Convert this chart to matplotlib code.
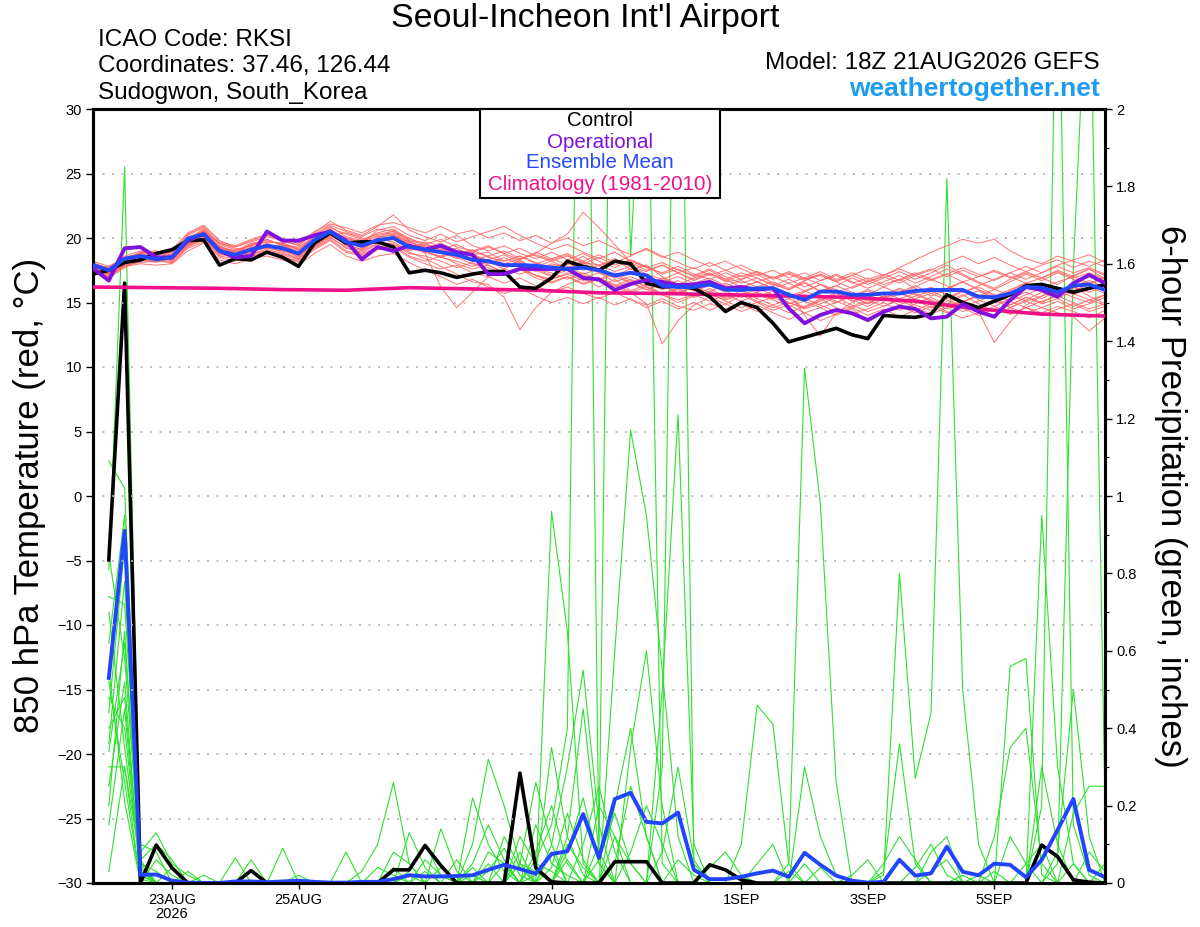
import numpy as np
import matplotlib
matplotlib.use("Agg")
import matplotlib.pyplot as plt
from matplotlib.patches import Rectangle
from matplotlib.ticker import MultipleLocator

plt.rcParams['font.family'] = ['Liberation Sans', 'DejaVu Sans']

# ---------------- data ----------------
# 6-hourly steps from 18Z 21AUG2026 (step 0) to step 64 (384 h)
tick_hours = [30, 78, 126, 174, 246, 294, 342]
tick_labels = ["23AUG\n2026", "25AUG", "27AUG", "29AUG", "1SEP", "3SEP", "5SEP"]

temp_control = [17.2, 17.5, 18.1, 18.3, 18.8, 19.1, 19.8, 19.85, 17.9, 18.4,
                18.3, 18.9, 18.5, 17.8, 19.6, 20.4, 19.6, 19.7, 19.7, 19.3,
                17.3, 17.5, 17.3, 16.95, 17.2, 17.4, 17.4, 16.2, 16.1, 16.9,
                18.2, 17.8, 17.5, 18.2, 18.0, 16.5, 16.2, 16.3, 16.1, 15.45,
                14.3, 15.0, 14.6, 13.4, 11.95, 12.3, 12.65, 13.0, 12.5, 12.2,
                14.0, 13.9, 13.85, 14.1, 15.6, 15.0, 14.6, 15.1, 15.6, 16.3,
                16.4, 16.1, 15.8, 16.1, 16.4]
temp_oper = [17.65, 16.7, 19.2, 19.3, 18.5, 18.5, 19.8, 20.3, 19.0, 18.5,
             18.6, 20.5, 19.8, 19.8, 20.2, 20.5, 19.8, 18.35, 19.3, 19.0,
             19.4, 19.1, 19.4, 18.9, 18.7, 17.2, 17.2, 17.6, 17.6, 17.6,
             17.6, 16.9, 16.8, 15.97, 16.43, 16.74, 16.6, 16.35, 16.4, 16.6,
             16.1, 16.2, 16.0, 16.1, 14.55, 13.39, 14.03, 14.42, 14.16, 13.64,
             14.29, 14.68, 14.5, 13.77, 13.9, 14.88, 14.29, 13.9, 15.19, 16.2,
             15.97, 15.45, 16.49, 17.13, 16.5]
temp_mean = [17.9, 17.5, 18.4, 18.6, 18.35, 18.5, 19.95, 20.3, 19.0, 18.7,
             19.1, 19.4, 19.2, 18.8, 19.84, 20.5, 19.7, 19.4, 19.84, 20.0,
             19.3, 19.1, 18.9, 18.7, 18.3, 18.2, 17.9, 17.9, 17.85, 17.7,
             17.6, 17.7, 17.5, 17.1, 17.3, 17.1, 16.3, 16.2, 16.2, 16.4,
             16.0, 15.97, 16.1, 16.1, 15.6, 15.2, 15.85, 15.85, 15.6, 15.6,
             15.7, 15.7, 15.9, 15.97, 15.97, 15.97, 15.45, 15.4, 15.7, 16.2,
             16.15, 15.8, 16.3, 16.4, 15.97]
# climatology, one value per day (steps 0,4,...,64)
clim_days = [16.2, 16.15, 16.1, 16.0, 15.95, 16.15, 16.05, 15.95, 15.75,
             15.7, 15.6, 15.5, 15.4, 15.1, 14.5, 14.1, 13.95]

t_m01 = [17.6, 17.2, 18.0, 18.8, 18.9, 18.4, 19.6, 20.6, 19.3, 18.9,
         19.5, 19.9, 19.4, 19.0, 20.2, 20.9, 20.1, 19.8, 20.4, 20.7,
         19.8, 19.2, 19.6, 19.0, 18.7, 18.9, 18.2, 18.6, 18.0, 18.4,
         17.9, 18.6, 17.8, 18.3, 17.6, 17.9, 17.0, 16.4, 16.9, 17.3,
         16.6, 16.8, 17.2, 16.5, 16.0, 16.6, 15.8, 16.3, 16.9, 16.4,
         16.9, 17.4, 16.8, 17.3, 17.9, 17.2, 16.6, 16.1, 16.8, 17.3,
         16.9, 16.4, 17.1, 17.6, 16.8]
t_m02 = [17.9, 17.4, 18.2, 18.3, 18.1, 18.6, 19.3, 19.9, 18.6, 18.4,
         18.8, 19.0, 18.7, 18.3, 19.4, 20.1, 19.2, 18.9, 19.5, 19.6,
         18.9, 18.4, 17.8, 17.2, 16.6, 16.4, 15.4, 12.9, 14.6, 15.8,
         16.4, 16.9, 16.2, 16.8, 15.9, 16.4, 15.6, 15.0, 15.5, 16.1,
         15.4, 15.9, 15.3, 14.8, 15.3, 14.6, 15.1, 15.7, 15.2, 14.7,
         15.3, 15.8, 15.2, 14.6, 15.1, 15.6, 14.9, 14.3, 14.8, 15.4,
         15.0, 15.6, 16.2, 15.5, 14.9]
t_m03 = [17.3, 17.0, 17.9, 18.5, 18.6, 18.2, 19.8, 20.2, 19.0, 18.3,
         19.0, 19.6, 19.1, 18.5, 19.9, 20.6, 19.5, 19.1, 20.0, 20.3,
         19.6, 18.8, 16.2, 14.6, 15.8, 17.0, 17.6, 18.3, 17.5, 17.0,
         17.8, 17.2, 17.6, 17.0, 16.5, 17.1, 16.3, 15.7, 16.2, 15.8,
         16.5, 16.0, 15.4, 15.9, 15.3, 15.8, 16.4, 15.7, 15.1, 15.6,
         16.2, 16.8, 16.1, 15.5, 16.0, 16.6, 16.0, 15.3, 15.9, 16.5,
         16.0, 15.4, 16.1, 16.7, 16.2]
t_m04 = [18.1, 17.6, 18.5, 18.7, 18.3, 18.8, 20.1, 20.4, 19.2, 18.8,
         19.3, 19.2, 19.0, 18.9, 19.7, 20.3, 19.8, 19.2, 19.7, 20.1,
         19.4, 19.3, 18.8, 18.5, 18.0, 17.7, 17.2, 17.6, 17.1, 16.8,
         17.3, 17.0, 16.6, 16.1, 15.8, 14.9, 11.8, 13.6, 14.8, 15.4,
         14.9, 15.5, 16.1, 15.6, 15.0, 14.6, 15.2, 15.8, 15.4, 14.9,
         15.5, 16.0, 15.6, 15.1, 14.5, 15.0, 15.6, 15.2, 14.6, 15.2,
         15.8, 15.3, 15.9, 16.4, 16.0]
t_m05 = [17.7, 17.3, 18.1, 18.4, 18.5, 18.3, 19.5, 20.0, 19.1, 18.6,
         18.9, 19.3, 19.3, 18.6, 19.5, 20.4, 19.6, 19.5, 19.9, 19.7,
         19.0, 19.5, 19.2, 18.6, 18.8, 18.1, 17.8, 18.0, 17.4, 17.9,
         17.5, 18.1, 17.3, 16.9, 17.4, 16.8, 16.2, 16.7, 16.0, 16.5,
         15.9, 16.3, 15.7, 15.3, 15.8, 14.0, 12.4, 14.2, 15.0, 15.6,
         15.1, 15.7, 15.3, 14.8, 15.4, 15.9, 15.2, 14.7, 15.3, 15.8,
         15.3, 15.9, 15.4, 15.0, 15.6]
t_m06 = [17.5, 17.5, 18.3, 18.6, 18.7, 18.9, 20.2, 20.8, 19.5, 19.1,
         19.4, 19.7, 19.6, 19.2, 20.0, 20.8, 20.3, 19.9, 20.3, 20.5,
         19.9, 19.6, 19.0, 19.2, 18.6, 18.3, 18.7, 18.1, 17.8, 18.2,
         17.6, 17.1, 16.8, 17.3, 16.7, 16.3, 16.9, 16.4, 15.9, 16.3,
         15.8, 16.2, 16.6, 16.1, 15.5, 15.9, 15.4, 15.0, 15.5, 16.0,
         15.6, 16.1, 15.7, 15.2, 14.8, 15.1, 14.3, 11.9, 13.5, 14.8,
         15.5, 16.1, 15.6, 16.2, 15.7]
t_m07 = [17.4, 17.1, 17.8, 18.2, 18.4, 18.0, 19.4, 20.1, 18.8, 18.5,
         18.7, 18.9, 18.5, 18.2, 19.2, 19.9, 19.0, 18.7, 19.2, 19.4,
         18.6, 18.2, 18.6, 18.0, 17.6, 17.9, 17.3, 17.7, 17.1, 16.8,
         17.2, 16.7, 16.9, 16.3, 16.8, 16.2, 15.7, 16.1, 15.5, 15.9,
         15.3, 15.7, 15.1, 14.6, 15.0, 14.5, 14.9, 15.4, 14.8, 14.3,
         14.7, 15.2, 14.6, 14.1, 14.6, 15.1, 14.5, 14.0, 14.6, 15.1,
         14.6, 14.2, 13.9, 12.8, 13.8]
t_m08 = [18.0, 17.7, 18.6, 19.0, 18.8, 19.1, 20.4, 21.0, 19.8, 19.3,
         19.7, 20.1, 19.8, 19.4, 20.4, 21.3, 20.6, 20.2, 20.9, 21.8,
         20.6, 20.1, 19.7, 20.2, 19.4, 19.0, 19.4, 18.8, 18.4, 18.9,
         18.3, 18.8, 18.2, 17.7, 18.3, 17.8, 17.2, 17.6, 17.0, 17.5,
         16.8, 17.3, 16.9, 16.3, 16.8, 16.2, 16.7, 17.2, 16.6, 16.1,
         16.6, 17.1, 16.5, 17.0, 17.6, 17.1, 16.5, 16.0, 16.6, 17.2,
         16.7, 17.3, 16.8, 16.4, 17.0]
t_m09 = [17.8, 17.3, 18.3, 18.6, 18.2, 18.7, 19.7, 20.3, 19.4, 18.9,
         19.2, 19.5, 19.2, 18.9, 19.8, 20.7, 19.9, 19.6, 20.1, 20.2,
         19.5, 19.0, 19.3, 18.7, 18.4, 18.0, 18.5, 17.9, 17.5, 18.0,
         17.7, 18.2, 17.6, 17.1, 17.6, 17.0, 16.6, 17.0, 16.5, 16.9,
         16.3, 16.7, 16.2, 16.6, 16.1, 16.7, 17.2, 16.6, 17.1, 17.6,
         17.1, 17.7, 18.3, 18.9, 19.4, 19.9, 19.6, 19.9, 19.0, 18.4,
         18.0, 18.6, 18.2, 17.8, 18.3]
t_m10 = [17.2, 17.4, 18.1, 18.9, 19.0, 18.5, 19.9, 20.5, 19.2, 19.0,
         19.6, 19.8, 19.5, 18.7, 19.9, 20.5, 20.0, 19.6, 20.6, 20.9,
         20.2, 19.8, 20.3, 19.7, 20.1, 20.5, 20.9, 20.2, 19.6, 19.1,
         19.5, 18.9, 18.4, 18.9, 18.2, 17.7, 18.1, 17.5, 17.1, 17.6,
         17.0, 16.5, 16.9, 16.4, 16.0, 16.5, 15.9, 16.3, 15.8, 15.4,
         15.8, 15.3, 15.7, 16.2, 15.6, 15.1, 15.5, 16.0, 15.6, 15.1,
         15.5, 16.0, 15.7, 15.2, 15.6]
t_m11 = [17.6, 17.8, 18.4, 18.4, 18.6, 18.5, 19.7, 20.2, 19.0, 18.7,
         19.2, 19.4, 19.1, 18.7, 19.6, 20.2, 19.7, 19.3, 19.8, 19.9,
         19.2, 18.9, 18.6, 18.9, 18.3, 18.6, 18.0, 18.4, 18.8, 19.6,
         20.3, 22.0, 20.8, 19.5, 18.1, 17.5, 17.9, 17.3, 16.8, 17.2,
         16.7, 17.1, 16.6, 16.1, 16.5, 15.9, 16.4, 16.0, 15.5, 15.9,
         15.4, 15.8, 16.3, 15.7, 16.1, 16.6, 16.0, 15.5, 16.0, 16.5,
         16.1, 16.6, 17.0, 16.5, 16.9]
t_m12 = [17.5, 17.2, 17.9, 18.1, 18.2, 18.1, 19.2, 19.7, 18.5, 18.2,
         18.6, 18.8, 18.6, 18.1, 19.1, 19.8, 18.9, 18.6, 19.1, 19.3,
         18.5, 18.0, 17.6, 17.9, 17.3, 17.0, 16.5, 16.9, 16.3, 15.8,
         16.2, 15.7, 15.3, 15.8, 15.2, 14.8, 15.3, 14.7, 14.4, 14.9,
         14.5, 14.9, 14.3, 14.8, 14.2, 14.7, 15.3, 14.6, 14.1, 14.5,
         15.0, 14.4, 14.9, 15.4, 14.8, 14.3, 14.7, 15.2, 14.6, 14.2,
         14.6, 15.1, 14.5, 14.9, 15.4]
t_m13 = [17.8, 17.6, 18.5, 18.8, 18.4, 18.6, 20.0, 20.6, 19.6, 19.2,
         19.0, 19.2, 19.5, 19.1, 19.3, 20.2, 20.4, 20.0, 19.6, 20.0,
         19.1, 19.7, 19.4, 18.8, 19.1, 18.5, 18.2, 18.6, 18.1, 17.7,
         18.1, 17.5, 17.9, 17.4, 17.8, 17.2, 16.8, 17.3, 16.7, 17.2,
         16.8, 16.2, 16.6, 17.0, 16.5, 16.9, 16.4, 15.8, 16.2, 16.7,
         16.2, 15.7, 16.2, 16.8, 16.3, 15.8, 16.3, 16.8, 17.3, 16.8,
         17.3, 17.8, 17.3, 17.7, 17.2]
t_m14 = [17.3, 16.9, 17.7, 18.3, 18.6, 18.4, 19.5, 20.0, 18.7, 18.6,
         19.1, 19.3, 18.9, 18.4, 19.6, 20.3, 19.4, 19.0, 19.6, 20.2,
         19.7, 19.3, 18.9, 18.4, 18.7, 18.2, 17.8, 18.2, 17.6, 17.3,
         16.8, 17.3, 16.7, 17.2, 16.5, 16.0, 16.4, 15.8, 16.2, 15.6,
         15.2, 15.6, 15.0, 15.4, 14.9, 15.3, 14.8, 14.3, 14.7, 15.2,
         14.7, 15.3, 14.8, 14.4, 14.9, 15.5, 15.9, 15.3, 14.8, 15.4,
         14.9, 15.3, 14.7, 15.2, 14.8]
t_m15 = [18.2, 17.8, 18.4, 18.5, 18.9, 18.7, 19.9, 20.7, 19.3, 19.0,
         19.4, 19.9, 19.4, 19.3, 20.1, 20.7, 19.8, 19.4, 20.0, 20.6,
         20.0, 19.4, 19.1, 19.5, 18.9, 18.6, 19.0, 18.4, 18.7, 18.3,
         18.7, 18.0, 18.5, 17.9, 18.3, 17.7, 17.3, 17.8, 17.2, 16.8,
         17.3, 16.8, 17.4, 16.9, 17.3, 16.8, 17.2, 16.7, 17.1, 16.6,
         17.0, 16.5, 17.1, 16.7, 17.2, 17.7, 17.2, 16.7, 17.3, 17.8,
         17.3, 17.9, 18.3, 18.7, 18.1]
t_m16 = [17.6, 17.4, 18.0, 18.2, 18.3, 18.2, 19.4, 19.9, 18.9, 18.5,
         18.8, 19.1, 18.8, 18.4, 19.3, 20.0, 19.3, 18.8, 19.3, 19.5,
         18.8, 18.6, 18.2, 17.7, 18.1, 17.5, 17.2, 17.6, 16.9, 16.5,
         17.0, 16.4, 16.8, 16.2, 16.6, 16.0, 15.6, 16.0, 15.4, 15.8,
         15.1, 14.6, 15.0, 14.4, 14.8, 14.2, 14.6, 14.0, 14.5, 13.5,
         14.2, 14.7, 14.2, 14.7, 14.2, 14.6, 14.0, 14.5, 14.1, 14.6,
         14.2, 14.7, 14.3, 13.8, 14.4]
t_m17 = [17.4, 17.3, 18.2, 18.5, 18.5, 18.3, 19.6, 20.3, 19.0, 18.7,
         19.3, 19.5, 19.3, 18.8, 19.7, 20.5, 19.7, 19.3, 19.9, 20.0,
         19.3, 19.0, 18.5, 18.2, 17.8, 18.2, 17.6, 17.2, 17.6, 17.1,
         17.5, 16.9, 17.3, 16.6, 17.0, 16.5, 16.0, 16.5, 15.9, 16.4,
         15.9, 15.4, 15.8, 15.3, 15.7, 15.2, 15.6, 15.1, 14.6, 15.0,
         15.5, 15.0, 15.5, 15.9, 15.3, 15.8, 16.2, 15.6, 15.1, 15.6,
         16.1, 15.6, 16.2, 15.8, 16.3]
t_m18 = [17.9, 17.5, 18.3, 18.7, 18.7, 18.9, 20.0, 20.4, 19.3, 18.8,
         19.5, 19.7, 19.6, 19.1, 19.9, 20.6, 20.0, 19.7, 20.2, 20.4,
         19.7, 19.2, 19.5, 19.0, 18.9, 19.3, 18.8, 19.2, 18.6, 18.2,
         18.6, 18.1, 17.9, 18.4, 17.8, 17.4, 17.9, 17.3, 17.7, 17.1,
         17.5, 17.0, 17.4, 16.9, 17.4, 16.9, 17.4, 16.8, 17.3, 16.8,
         17.2, 16.7, 17.2, 17.6, 17.0, 17.5, 17.0, 17.4, 16.9, 17.4,
         16.9, 17.5, 17.0, 17.6, 17.1]
t_m19 = [17.7, 17.6, 18.2, 18.6, 18.4, 18.6, 19.8, 20.5, 19.6, 19.3,
         19.8, 20.2, 19.9, 19.6, 20.5, 21.1, 20.8, 20.4, 21.0, 21.2,
         20.8, 20.4, 20.9, 20.3, 20.6, 20.0, 20.4, 19.8, 20.2, 19.6,
         20.0, 19.4, 19.8, 19.2, 18.7, 19.1, 18.5, 18.9, 18.3, 17.8,
         18.2, 17.6, 17.1, 17.5, 16.9, 17.3, 16.7, 17.1, 16.5, 16.9,
         16.4, 16.8, 17.3, 16.8, 17.2, 16.6, 17.0, 17.5, 17.0, 16.5,
         16.9, 17.4, 16.9, 17.3, 16.8]
t_m20 = [17.5, 17.0, 17.8, 18.0, 17.9, 18.0, 19.0, 19.6, 18.3, 18.0,
         18.4, 18.6, 18.3, 17.9, 18.8, 19.5, 18.6, 18.2, 18.6, 18.8,
         18.1, 17.5, 17.0, 16.4, 16.8, 16.2, 15.7, 16.1, 15.5, 15.0,
         15.4, 14.9, 15.4, 14.8, 15.3, 14.6, 15.1, 14.5, 15.0, 14.4,
         14.9, 14.3, 14.8, 14.2, 13.7, 14.2, 13.6, 14.1, 14.6, 14.0,
         14.5, 13.9, 14.4, 14.9, 14.3, 13.8, 14.2, 14.7, 14.1, 14.6,
         14.0, 14.5, 14.9, 14.3, 14.7]
t_m21 = [17.3, 17.2, 18.4, 18.9, 18.7, 18.9, 20.3, 20.9, 19.7, 19.4,
         19.9, 20.3, 19.7, 19.5, 20.3, 21.0, 20.5, 20.1, 20.7, 20.5,
         19.8, 19.5, 19.9, 19.3, 19.0, 19.4, 18.8, 18.3, 18.9, 18.4,
         18.8, 18.2, 18.7, 18.1, 18.6, 19.2, 18.6, 18.1, 17.6, 18.1,
         17.5, 17.9, 17.3, 16.8, 17.2, 16.7, 17.1, 16.6, 16.1, 16.6,
         17.1, 17.6, 17.1, 17.5, 18.1, 18.6, 18.0, 18.5, 17.9, 17.4,
         17.9, 18.3, 17.7, 18.2, 17.8]
t_m22 = [18.0, 17.6, 18.1, 18.4, 18.6, 18.4, 19.6, 20.2, 19.1, 18.6,
         19.0, 19.4, 19.0, 18.6, 19.5, 20.2, 19.5, 19.1, 19.8, 20.1,
         19.5, 18.9, 18.5, 18.9, 18.3, 17.9, 17.3, 17.7, 17.1, 16.6,
         17.0, 16.5, 16.9, 16.4, 15.8, 16.2, 15.6, 15.2, 15.6, 15.1,
         15.6, 15.1, 15.6, 15.2, 14.7, 15.1, 14.6, 15.0, 15.5, 14.9,
         15.4, 14.8, 15.3, 15.7, 15.2, 14.7, 15.1, 15.6, 15.1, 14.6,
         15.1, 15.5, 15.0, 14.5, 14.9]
temp_members = [t_m01, t_m02, t_m03, t_m04, t_m05, t_m06, t_m07, t_m08, t_m09, t_m10, t_m11,
                t_m12, t_m13, t_m14, t_m15, t_m16, t_m17, t_m18, t_m19, t_m20, t_m21, t_m22]

# 6-hour precipitation (inches), steps 1..64
precip_control = [0.835, 1.55, 0.0, 0.098, 0.039, 0.0, 0.0, 0.0, 0.0, 0.032, 0.0, 0.0, 0.0, 0.0, 0.0, 0.0,
                  0.0, 0.0, 0.034, 0.034, 0.097, 0.045, 0.0, 0.0, 0.0, 0.0, 0.284, 0.039, 0.003, 0.0, 0.0, 0.0,
                  0.055, 0.055, 0.055, 0.0, 0.0, 0.0, 0.047, 0.034, 0.008, 0.0, 0.0, 0.0, 0.0, 0.0, 0.0, 0.0,
                  0.0, 0.0, 0.0, 0.0, 0.0, 0.0, 0.0, 0.0, 0.0, 0.0, 0.0, 0.098, 0.068, 0.008, 0.002, 0.0]
precip_mean = [0.53, 0.91, 0.021, 0.022, 0.006, 0.001, 0.0, 0.0, 0.004, 0.004, 0.002, 0.004, 0.006, 0.003, 0.001, 0.001,
               0.003, 0.003, 0.01, 0.02, 0.017, 0.017, 0.018, 0.02, 0.034, 0.047, 0.036, 0.024, 0.075, 0.082, 0.178, 0.065,
               0.217, 0.233, 0.158, 0.154, 0.182, 0.034, 0.01, 0.01, 0.016, 0.025, 0.032, 0.016, 0.078, 0.047, 0.019, 0.006,
               0.001, 0.003, 0.06, 0.019, 0.025, 0.094, 0.029, 0.02, 0.05, 0.047, 0.015, 0.06, 0.137, 0.217, 0.034, 0.015]

p_m01 = [1.09, 1.02, .05, 0, 0, 0, .02, 0, 0, 0, 0, 0, 0, 0, 0, 0,
         0, 0, 0, 0, .03, 0, 0, 0, .05, 0, .08, 0, 0, .10, .04, 0,
         0, .08, .20, .10, 0, 0, 0, 0, 0, 0, 0, 0, .05, 0, 0, 0,
         0, 0, 0, 0, 0, 0, 0, 0, 0, 0, .05, .10, 0, 0, 0, 0]
p_m02 = [.81, 1.85, 0, .06, .02, 0, 0, 0, 0, 0, 0, 0, 0, 0, 0, 0,
         0, 0, .08, .05, 0, 0, 0, 0, 0, 0, 0, .06, .15, .40, 3.5, .05,
         0, 0, 0, 0, 0, 0, 0, 0, 0, 0, 0, 0, 0, 0, 0, 0,
         0, 0, 0, 0, 0, 0, 0, .02, 0, 0, 0, 0, 0, 0, 0, 0]
p_m03 = [.74, .72, .08, .13, .05, .02, 0, 0, 0, 0, 0, 0, 0, 0, 0, 0,
         0, 0, 0, .03, .10, .02, 0, 0, 0, .12, .04, 0, 0, 0, 0, 0,
         .6, 1.17, .95, .55, .12, 0, 0, 0, 0, 0, 0, 0, 0, 0, 0, 0,
         0, .03, .36, .05, 0, 0, 0, 0, 0, 0, 0, 0, 0, 0, 0, 0]
p_m04 = [.44, .87, .03, 0, 0, 0, 0, 0, 0, 0, 0, 0, 0, 0, 0, .08,
         0, 0, 0, 0, 0, 0, 0, .05, .15, .06, 0, 0, 0, 0, 0, .10,
         3.2, 1.62, 2.4, .05, 0, 0, 0, 0, 0, 0, 0, 0, 0, 0, 0, 0,
         0, 0, 0, 0, 0, 0, 0, 0, 0, .56, .58, .02, 0, 0, 0, 0]
p_m05 = [.40, .48, .02, 0, 0, 0, 0, 0, .065, 0, 0, 0, 0, 0, 0, 0,
         0, 0, 0, .13, .04, 0, 0, 0, 0, 0, 0, .15, .05, .02, 0, 0,
         0, 0, 0, .5, 1.21, .10, 0, 0, 0, 0, 0, 0, 0, 0, 0, 0,
         0, 0, 0, 0, .03, .06, 0, 0, 0, 0, 0, 0, 0, .05, 0, 0]
p_m06 = [.34, .62, .10, .08, 0, 0, 0, 0, 0, 0, 0, .09, 0, 0, 0, 0,
         0, 0, 0, 0, 0, .14, .03, 0, 0, 0, .05, .26, .10, 0, 0, 0,
         0, 0, 0, 0, 0, 0, 0, 0, .10, .46, .41, .05, 0, 0, 0, 0,
         0, 0, 0, 0, 0, 0, 0, 0, 0, 0, 0, 0, 0, 0, 0, 0]
p_m07 = [.03, .30, 0, 0, 0, 0, 0, 0, 0, 0, 0, 0, 0, 0, 0, 0,
         .03, .10, .26, .05, 0, 0, 0, .02, 0, 0, 0, 0, 0, 0, 0, 0,
         0, 0, 0, 0, 0, 0, 0, 0, 0, 0, 0, .05, 1.33, .98, .26, 0,
         0, 0, 0, 0, 0, 0, .02, 0, 0, 0, 0, 0, 0, 0, .08, .03]
p_m08 = [.30, .30, .06, .10, .06, 0, 0, 0, 0, .06, 0, 0, 0, 0, 0, 0,
         0, 0, 0, 0, 0, 0, 0, 0, .08, .05, 0, 0, .96, .65, .05, 0,
         .12, .05, 0, 0, 0, 0, 0, 0, 0, 0, 0, 0, 0, 0, 0, 0,
         0, .02, .80, .27, .44, 1.82, .50, .10, 0, 0, 0, 0, 0, 0, 0, 0]
p_m09 = [.55, .21, 0, 0, 0, .03, 0, 0, 0, 0, 0, 0, 0, 0, 0, 0,
         0, 0, 0, 0, 0, 0, 0, .22, .10, .03, 0, 0, 0, .08, .22, .05,
         0, 0, 0, .3, 3.0, .05, 0, 0, 0, 0, 0, 0, 0, 0, 0, 0,
         0, 0, 0, 0, 0, 0, 0, 0, 0, 0, 0, .95, .30, .05, 0, 0]
p_m10 = [.62, .95, .04, 0, 0, 0, 0, 0, 0, 0, 0, 0, .02, 0, 0, 0,
         0, 0, 0, 0, 0, .04, 0, .10, .32, .20, .05, 0, 0, 0, 0, .06,
         .18, .05, 0, 0, 0, 0, 0, 0, 0, 0, 0, 0, 0, 0, 0, 0,
         0, 0, 0, 0, 0, 0, 0, 0, 0, 0, 0, .2, 2.6, .15, .02, 0]
p_m11 = [.25, .52, .01, 0, 0, 0, 0, 0, 0, 0, 0, 0, 0, 0, 0, 0,
         0, 0, 0, 0, 0, 0, 0, 0, 0, 0, .12, .05, .03, 0, .10, .25,
         .08, 0, 0, 0, 0, 0, 0, 0, 0, 0, 0, 0, 0, 0, 0, .02,
         .06, 0, 0, 0, 0, 0, 0, 0, 0, 0, 0, 0, .05, 1.59, 2.5, .2]
p_m12 = [.48, .40, .03, 0, .04, 0, 0, 0, 0, 0, 0, 0, 0, 0, 0, 0,
         0, .04, .02, 0, 0, 0, .06, 0, 0, 0, 0, .02, .35, .12, .02, 0,
         0, 0, 0, 0, 0, 0, 0, 0, 0, 0, 0, 0, 0, .04, 0, 0,
         0, 0, 0, 0, 0, 0, 0, 0, .12, .35, .40, .05, 0, 0, 0, 0]
p_m13 = [.20, .65, .02, 0, 0, 0, 0, 0, 0, 0, 0, 0, 0, 0, 0, 0,
         0, 0, 0, 0, 0, 0, 0, 0, 0, .05, 0, 0, .10, .30, .55, .15,
         0, 0, 0, 0, 0, 0, .04, .08, .02, 0, 0, 0, 0, 0, 0, 0,
         0, .05, .12, .06, 0, 0, 0, 0, 0, 0, 0, 0, 0, .18, .25, .25]
p_m14 = [.85, .58, .05, .03, 0, 0, 0, 0, 0, 0, 0, 0, 0, 0, 0, 0,
         0, 0, 0, 0, .06, .02, 0, 0, 0, 0, 0, 0, .04, .18, .06, 0,
         0, .35, .6, .2, 0, 0, 0, 0, 0, 0, 0, .03, 0, 0, 0, 0,
         0, 0, 0, 0, .08, .12, 0, 0, 0, 0, 0, 0, 0, 0, 0, 0]
p_m15 = [.15, .45, 0, 0, 0, 0, 0, 0, 0, 0, 0, 0, 0, 0, 0, 0,
         0, 0, .04, 0, 0, 0, 0, 0, 0, 0, 0, .08, .2, .05, 0, 0,
         .05, .25, .12, 0, .06, .02, 0, 0, 0, 0, 0, 0, 0, 0, 0, 0,
         0, 0, 0, 0, 0, 0, 0, 0, .03, 0, 0, .3, .1, 0, 0, .05]
p_m16 = [.70, .35, .04, 0, 0, 0, 0, 0, 0, 0, 0, 0, 0, 0, 0, 0,
         0, 0, 0, 0, 0, 0, 0, 0, 0, 0, .05, .03, 0, .12, .45, .08,
         0, 0, 0, 0, 0, 0, 0, 0, 0, .05, .1, 0, 0, 0, 0, 0,
         0, 0, 0, 0, 0, 0, 0, 0, 0, .12, .05, 0, 0, 0, 0, 0]
p_m17 = [.36, .78, .06, 0, 0, 0, 0, 0, 0, 0, 0, 0, 0, 0, 0, 0,
         0, 0, 0, .02, 0, 0, 0, .04, 0, 0, 0, 0, .08, 0, 0, 0,
         .2, .4, .12, 0, 0, 0, 0, 0, 0, 0, 0, 0, .3, .12, .02, 0,
         0, 0, 0, 0, 0, 0, 0, 0, 0, 0, 0, 0, .08, .5, .12, 0]
p_m18 = [.52, .26, 0, 0, 0, 0, 0, 0, 0, 0, 0, 0, 0, 0, 0, 0,
         0, 0, 0, 0, 0, 0, 0, 0, .03, .09, .02, 0, 0, .06, 0, .2,
         .12, 0, 0, .08, .3, .06, 0, 0, 0, 0, 0, 0, 0, 0, 0, 0,
         0, 0, 0, .04, .1, .02, 0, 0, 0, 0, 0, 0, 0, 0, 0, 0]
precip_members = [p_m01, p_m02, p_m03, p_m04, p_m05, p_m06, p_m07, p_m08, p_m09,
                  p_m10, p_m11, p_m12, p_m13, p_m14, p_m15, p_m16, p_m17, p_m18]

for m in temp_members:
    assert len(m) == 65, len(m)
for m in precip_members:
    assert len(m) == 64, len(m)

# ---------------- plotting ----------------
hours_t = np.arange(len(temp_mean)) * 6
hours_p = np.arange(1, len(precip_mean) + 1) * 6
hours_clim = np.arange(len(clim_days)) * 24

W, H = 1200, 927
fig = plt.figure(figsize=(W / 100, H / 100), dpi=100, facecolor='white')
ax = fig.add_axes([93 / W, 44 / H, 1012 / W, 774 / H])
ax2 = ax.twinx()
ax.set_zorder(ax2.get_zorder() + 1)
ax.patch.set_visible(False)
ax2.patch.set_facecolor('white')
ax2.patch.set_visible(True)

ax.set_xlim(0, 384)
ax.set_ylim(-30, 30)
ax2.set_ylim(0, 2)

# precipitation
for m in precip_members:
    ax2.plot(hours_p, m, color='#2EE02E', lw=0.8, zorder=2)
ax2.plot(hours_p, precip_control, color='black', lw=2.6, zorder=3)
ax2.plot(hours_p, precip_mean, color='#2244FF', lw=2.8, zorder=4)

# temperature
for m in temp_members:
    ax.plot(hours_t, m, color='#FF6464', lw=0.7, alpha=0.9, zorder=2)
ax.plot(hours_clim, clim_days, color='#F0108A', lw=2.6, zorder=3)
ax.plot(hours_t, temp_control, color='black', lw=2.6, zorder=4)
ax.plot(hours_t, temp_oper, color='#8010E0', lw=2.8, zorder=5)
ax.plot(hours_t, temp_mean, color='#2448FF', lw=2.8, zorder=6)

# grid
ax.set_yticks(np.arange(-30, 31, 5))
ax.yaxis.grid(True, color='#B4B4B4', linestyle=(0, (1.2, 4.5)), lw=1.2, zorder=1)
ax.set_axisbelow(True)

# ticks
ax.set_xticks(tick_hours)
ax.set_xticklabels(tick_labels, fontsize=10.5, linespacing=1.05)
ax.tick_params(axis='x', direction='out', length=4, width=1, pad=3)
ax.tick_params(axis='y', direction='out', length=5, width=1, labelsize=10.5, pad=3)
ax2.set_yticks(np.arange(0, 2.01, 0.2))
ax2.set_yticklabels(['0', '0.2', '0.4', '0.6', '0.8', '1', '1.2', '1.4', '1.6', '1.8', '2'])
ax2.yaxis.set_minor_locator(MultipleLocator(0.1))
ax2.tick_params(axis='y', which='major', direction='out', length=5, width=1, labelsize=10.5, pad=3)
ax2.tick_params(axis='y', which='minor', direction='out', length=3, width=0.8)

for a in (ax, ax2):
    for s in a.spines.values():
        s.set_linewidth(2.2)
        s.set_color('black')

# axis labels
fig.text(30 / W, 1 - 495 / H, '850 hPa Temperature (red, °C)', rotation=90,
         ha='center', va='center', fontsize=25)
fig.text(1170 / W, 1 - 496 / H, '6-hour Precipitation (green, inches)', rotation=270,
         ha='center', va='center', fontsize=25)

# header
fig.text(585 / W, 1 - 18 / H, "Seoul-Incheon Int'l Airport", ha='center', va='center', fontsize=24.5)
fig.text(98 / W, 1 - 40 / H, 'ICAO Code: RKSI', ha='left', va='center', fontsize=17.5)
fig.text(98 / W, 1 - 66 / H, 'Coordinates: 37.46, 126.44', ha='left', va='center', fontsize=17.5)
fig.text(98 / W, 1 - 93 / H, 'Sudogwon, South_Korea', ha='left', va='center', fontsize=17.5)
fig.text(1100 / W, 1 - 63 / H, 'Model: 18Z 21AUG2026 GEFS', ha='right', va='center', fontsize=17.5)
fig.text(1100 / W, 1 - 89 / H, 'weathertogether.net', ha='right', va='center', fontsize=19,
         fontweight='bold', color='#1E9CF0')

# legend box
box = Rectangle((480 / W, 1 - 198 / H), 240 / W, 89 / H, transform=fig.transFigure,
                facecolor='white', edgecolor='black', lw=1.5, zorder=10)
fig.patches.append(box)
leg_items = [('Control', 'black', 121), ('Operational', '#8010E0', 142),
             ('Ensemble Mean', '#2448FF', 163), ('Climatology (1981-2010)', '#F0108A', 185)]
for txt, col, yy in leg_items:
    fig.text(600 / W, 1 - yy / H, txt, ha='center', va='center', fontsize=14.8, color=col, zorder=11)

fig.savefig('out.png', dpi=100, facecolor='white')
